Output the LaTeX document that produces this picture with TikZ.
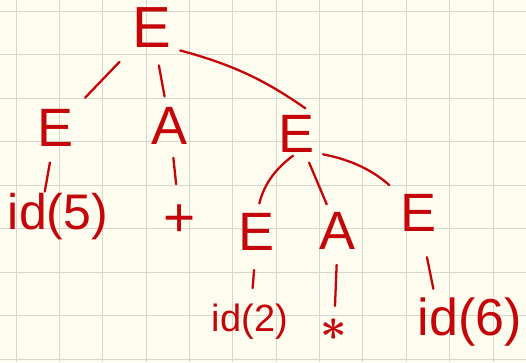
\documentclass[tikz,border=0pt]{standalone}
\usepackage{fontspec}
\setmainfont{Liberation Sans}
\usepackage{graphicx}
\usepackage{tikz}
\usetikzlibrary{arrows.meta,positioning,calc}
\definecolor{paper}{RGB}{254,252,238}
\definecolor{gridline}{RGB}{214,214,204}
\definecolor{ink}{RGB}{196,6,10}
\tikzset{
  sym/.style={text=ink, inner sep=0pt, font=\fontsize{54}{54}\selectfont},
  term/.style={text=ink, inner sep=0pt, font=\fontsize{50}{50}\selectfont},
  tedge/.style={draw=ink, line width=2.3pt, line cap=round}
}

\begin{document}
\begin{tikzpicture}[x=1pt, y=-1pt]
  \fill[paper] (0,0) rectangle (526,362);
  \useasboundingbox (0,0) rectangle (526,362);
  \foreach \gx in {0,...,11}
    \draw[gridline, line width=0.9pt] ({16+43.36*\gx},0) -- ({16+43.36*\gx},362);
  \foreach \gy in {0,...,8}
    \draw[gridline, line width=0.9pt] (0,{11+43.5*\gy}) -- (526,{11+43.5*\gy});

  % nonterminals
  \node[sym, font=\fontsize{58}{58}\selectfont] (root) at (152,28) {E};
  \node[sym] (eleft) at (56,128) {E};
  \node[sym] (aleft) at (170,126) {A};
  \node[sym] (emid) at (297,134) {E};
  \node[sym] (elow) at (257,232) {E};
  \node[sym] (alow) at (338,231) {A};
  \node[sym] (eright) at (418,213) {E};

  % terminals
  \node[term] (idfive) at (58,217) {id(5)};
  \node[term, font=\fontsize{55}{55}\selectfont] (plus) at (180,221) {+};
  \node[term, font=\fontsize{38}{38}\selectfont] (idtwo) at (250,322) {id(2)};
  \node[term, font=\normalsize] (star) at (334,330) {\scalebox{4.6}{\boldmath$\ast$}};
  \node[term, font=\fontsize{52}{52}\selectfont] (idsix) at (470,322) {id(6)};

  \draw[tedge, shorten <=47pt, shorten >=42pt] (root.center) -- (eleft.center);
  \draw[tedge, shorten <=38pt, shorten >=30pt] (root.center) -- (aleft.center);
  \draw[tedge, shorten <=9pt, shorten >=12pt] (root.south east) to[bend left=10] (emid.north east);
  \draw[tedge, shorten <=35pt, shorten >=2pt] (eleft.center) -- (idfive.120);
  \draw[tedge, shorten <=32pt, shorten >=37pt] (aleft.center) -- (plus.center);
  \draw[tedge, shorten <=5pt, shorten >=10pt] (emid.south) to[bend right=20] (elow.north);
  \draw[tedge, shorten <=31pt, shorten >=29pt] (emid.center) -- (alow.center);
  \draw[tedge, shorten <=8pt, shorten >=14pt] (emid.south east) to[bend left=15] (eright.north west);
  \draw[tedge, shorten <=38pt, shorten >=34pt] (elow.center) -- (idtwo.center);
  \draw[tedge, shorten <=34pt, shorten >=24pt] (alow.center) -- (star.center);
  \draw[tedge, shorten <=45pt, shorten >=9pt] (eright.center) -- (idsix.145);
\end{tikzpicture}
\end{document}
